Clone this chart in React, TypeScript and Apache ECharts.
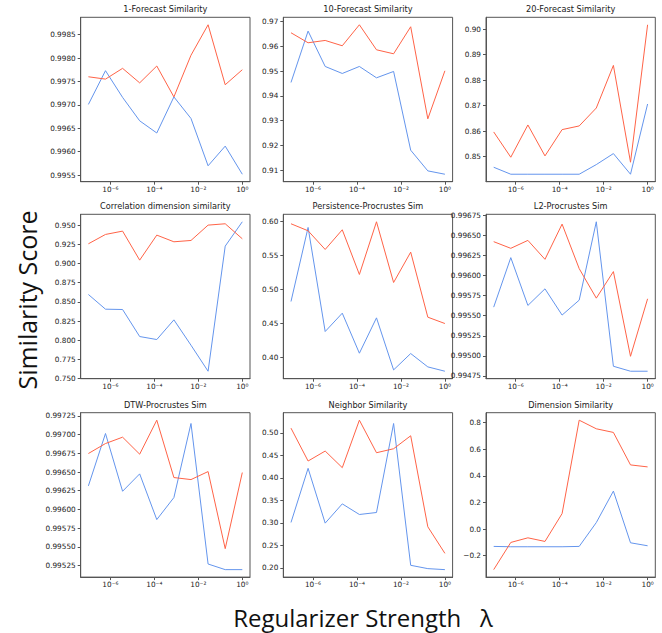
import React, { useEffect, useRef } from 'react';
import * as echarts from 'echarts';

// Regularizer strengths (lambda) on the x axis
const LAMBDA = [1e-7, 5.99e-7, 3.59e-6, 2.15e-5, 1.29e-4, 7.74e-4, 4.64e-3, 2.78e-2, 1.67e-1, 1];
const X_TICKS = [1e-6, 1e-4, 1e-2, 1];
const X_TICK_LABELS = ['10⁻⁶', '10⁻⁴', '10⁻²', '10⁰'];

const TITLES = [
  '1-Forecast Similarity',
  '10-Forecast Similarity',
  '20-Forecast Similarity',
  'Correlation dimension similarity',
  'Persistence-Procrustes Sim',
  'L2-Procrustes Sim',
  'DTW-Procrustes Sim',
  'Neighbor Similarity',
  'Dimension Similarity',
];

const forecast1Red = [0.99760, 0.99755, 0.99778, 0.99747, 0.99783, 0.99717, 0.99806, 0.99871, 0.99743, 0.99775];
const forecast1Blue = [0.99701, 0.99773, 0.99716, 0.99666, 0.99640, 0.99717, 0.99671, 0.99570, 0.99612, 0.99552];
const forecast1Ticks = [0.9955, 0.996, 0.9965, 0.997, 0.9975, 0.998, 0.9985];

const forecast10Red = [0.96543, 0.96139, 0.96233, 0.96018, 0.96865, 0.95856, 0.95695, 0.96785, 0.93072, 0.95009];
const forecast10Blue = [0.94538, 0.96610, 0.95184, 0.94901, 0.95184, 0.94726, 0.94982, 0.91807, 0.90973, 0.90838];
const forecast10Ticks = [0.91, 0.92, 0.93, 0.94, 0.95, 0.96, 0.97];

const forecast20Red = [0.85970, 0.84979, 0.86244, 0.85031, 0.86061, 0.86205, 0.86909, 0.88578, 0.84783, 0.90170];
const forecast20Blue = [0.84587, 0.84313, 0.84313, 0.84313, 0.84313, 0.84313, 0.84691, 0.85122, 0.84313, 0.87065];
const forecast20Ticks = [0.84, 0.85, 0.86, 0.87, 0.88, 0.89, 0.9];

const corrDimRed = [0.92565, 0.93783, 0.94217, 0.90435, 0.93696, 0.92826, 0.93000, 0.95000, 0.95174, 0.93217];
const corrDimBlue = [0.85957, 0.84043, 0.84000, 0.80478, 0.80087, 0.82652, 0.79348, 0.75957, 0.92260, 0.95435];
const corrDimTicks = [0.75, 0.775, 0.8, 0.825, 0.85, 0.875, 0.9, 0.925, 0.95];

const persistRed = [0.59657, 0.58627, 0.55882, 0.58775, 0.52206, 0.59951, 0.51029, 0.55490, 0.45931, 0.45000];
const persistBlue = [0.48235, 0.59118, 0.43824, 0.46520, 0.40637, 0.45833, 0.38186, 0.40588, 0.38627, 0.37990];
const persistTicks = [0.4, 0.45, 0.5, 0.55, 0.6];

const l2Red = [0.996423, 0.99634, 0.996439, 0.996203, 0.996642, 0.996087, 0.995719, 0.99605, 0.994994, 0.995711];
const l2Blue = [0.995607, 0.996224, 0.995628, 0.995835, 0.995508, 0.995694, 0.996671, 0.99487, 0.994808, 0.994808];
const l2Ticks = [0.99475, 0.995, 0.99525, 0.9955, 0.99575, 0.996, 0.99625, 0.9965, 0.99675];

const dtwRed = [0.996747, 0.99688, 0.996965, 0.996738, 0.997192, 0.996426, 0.996399, 0.996506, 0.995477, 0.996493];
const dtwBlue = [0.996315, 0.997014, 0.996243, 0.996475, 0.995865, 0.996159, 0.997148, 0.995272, 0.995197, 0.995197];
const dtwTicks = [0.99525, 0.9955, 0.99575, 0.996, 0.99625, 0.9965, 0.99675, 0.997, 0.99725];

const neighborRed = [0.51032, 0.43734, 0.45946, 0.42260, 0.52801, 0.45577, 0.46462, 0.49337, 0.29139, 0.23242];
const neighborBlue = [0.30097, 0.42112, 0.29950, 0.34225, 0.31866, 0.32308, 0.52064, 0.20589, 0.19852, 0.19631];
const neighborTicks = [0.2, 0.25, 0.3, 0.35, 0.4, 0.45, 0.5];

const dimensionRed = [-0.3045, -0.1005, -0.0657, -0.0930, 0.1159, 0.8174, 0.7527, 0.7254, 0.4816, 0.4667];
const dimensionBlue = [-0.1303, -0.1328, -0.1328, -0.1328, -0.1328, -0.1303, 0.0488, 0.2851, -0.1030, -0.1254];
const dimensionTicks = [-0.2, 0, 0.2, 0.4, 0.6, 0.8];

const PANELS = [
  { red: forecast1Red, blue: forecast1Blue, ticks: forecast1Ticks, dec: 4 },
  { red: forecast10Red, blue: forecast10Blue, ticks: forecast10Ticks, dec: 2 },
  { red: forecast20Red, blue: forecast20Blue, ticks: forecast20Ticks, dec: 2 },
  { red: corrDimRed, blue: corrDimBlue, ticks: corrDimTicks, dec: 3 },
  { red: persistRed, blue: persistBlue, ticks: persistTicks, dec: 2 },
  { red: l2Red, blue: l2Blue, ticks: l2Ticks, dec: 5 },
  { red: dtwRed, blue: dtwBlue, ticks: dtwTicks, dec: 5 },
  { red: neighborRed, blue: neighborBlue, ticks: neighborTicks, dec: 2 },
  { red: dimensionRed, blue: dimensionBlue, ticks: dimensionTicks, dec: 1 },
];

const RED = '#FF6347';
const BLUE = '#6495ED';
const SPINE = '#555555';
const TEXT = '#222222';
const FONT = 'DejaVu Sans';

const COL_LEFT = [80.7, 283.3, 486];
const ROW_TOP = [17.3, 214.3, 412.7];
const W = 169.3;
const H = 164.4;

export default function App() {
  const ref = useRef<HTMLDivElement>(null);
  useEffect(() => {
    if (!ref.current) return;
    const chart = echarts.init(ref.current, undefined, { renderer: 'svg' });
    const grids: any[] = [];
    const xAxes: any[] = [];
    const yAxes: any[] = [];
    const series: any[] = [];
    const titles: any[] = [];
    const xLogMin = Math.log10(LAMBDA[0]);
    const xLogMax = Math.log10(LAMBDA[LAMBDA.length - 1]);
    const xPad = (xLogMax - xLogMin) * 0.05;
    const xTickPos = X_TICKS.map((t) => Math.log10(t));

    PANELS.forEach((p, i) => {
      const left = COL_LEFT[i % 3];
      const top = ROW_TOP[Math.floor(i / 3)];
      grids.push({
        left, top, width: W, height: H,
        show: true, borderColor: SPINE, borderWidth: 1,
        outerBoundsMode: 'none',
      });
      xAxes.push({
        type: 'value', gridIndex: i,
        min: xLogMin - xPad, max: xLogMax + xPad,
        axisLine: { show: true, onZero: false, lineStyle: { color: SPINE, width: 1 } },
        axisTick: { show: true, length: 3, customValues: xTickPos, lineStyle: { color: SPINE } },
        axisLabel: {
          customValues: xTickPos, margin: 4,
          fontSize: 7.3, fontFamily: FONT, color: TEXT,
          formatter: (v: number) => {
            const k = xTickPos.findIndex((t) => Math.abs(t - v) < 1e-6);
            return k >= 0 ? X_TICK_LABELS[k] : '';
          },
        },
        splitLine: { show: false },
      });
      const all = p.red.concat(p.blue);
      const lo = Math.min(...all);
      const hi = Math.max(...all);
      const pad = (hi - lo) * 0.05;
      yAxes.push({
        type: 'value', gridIndex: i,
        min: lo - pad, max: hi + pad,
        axisLine: { show: true, onZero: false, lineStyle: { color: SPINE, width: 1 } },
        axisTick: { show: true, length: 3, customValues: p.ticks, lineStyle: { color: SPINE } },
        axisLabel: {
          customValues: p.ticks, margin: 5,
          fontSize: 7.3, fontFamily: FONT, color: TEXT,
          formatter: (v: number) => v.toFixed(p.dec).replace('-', '\u2212'),
        },
        splitLine: { show: false },
      });
      series.push({
        type: 'line', xAxisIndex: i, yAxisIndex: i, symbol: 'none',
        lineStyle: { color: BLUE, width: 1 }, itemStyle: { color: BLUE },
        data: LAMBDA.map((l, j) => [Math.log10(l), p.blue[j]]),
      });
      series.push({
        type: 'line', xAxisIndex: i, yAxisIndex: i, symbol: 'none',
        lineStyle: { color: RED, width: 1 }, itemStyle: { color: RED },
        data: LAMBDA.map((l, j) => [Math.log10(l), p.red[j]]),
      });
      titles.push({
        text: TITLES[i],
        left: left + W / 2,
        top: top - 12,
        textAlign: 'center',
        padding: 0,
        textStyle: { fontSize: 8.2, fontFamily: FONT, fontWeight: 'normal', color: TEXT },
      });
    });

    const graphics: any[] = [
      {
        type: 'text', x: 27, y: 300, rotation: Math.PI / 2,
        style: {
          text: 'Similarity Score', fontSize: 25, fontFamily: 'Open Sans', fontWeight: 'normal', fill: '#111',
          align: 'center', verticalAlign: 'middle',
        },
      },
      {
        type: 'text', x: 363, y: 617,
        style: {
          text: 'Regularizer Strength   λ', fontSize: 24, fontFamily: 'Open Sans', fontWeight: 'normal', fill: '#111',
          align: 'center', verticalAlign: 'middle',
        },
      },
    ];

    chart.setOption({
      animation: false,
      backgroundColor: '#ffffff',
      title: titles,
      grid: grids,
      xAxis: xAxes,
      yAxis: yAxes,
      series,
      graphic: graphics,
    });
    return () => chart.dispose();
  }, []);
  return (
    <div
      ref={ref}
      style={{ position: 'fixed', left: 0, top: 0, width: 662, height: 633, background: '#fff' }}
    />
  );
}
